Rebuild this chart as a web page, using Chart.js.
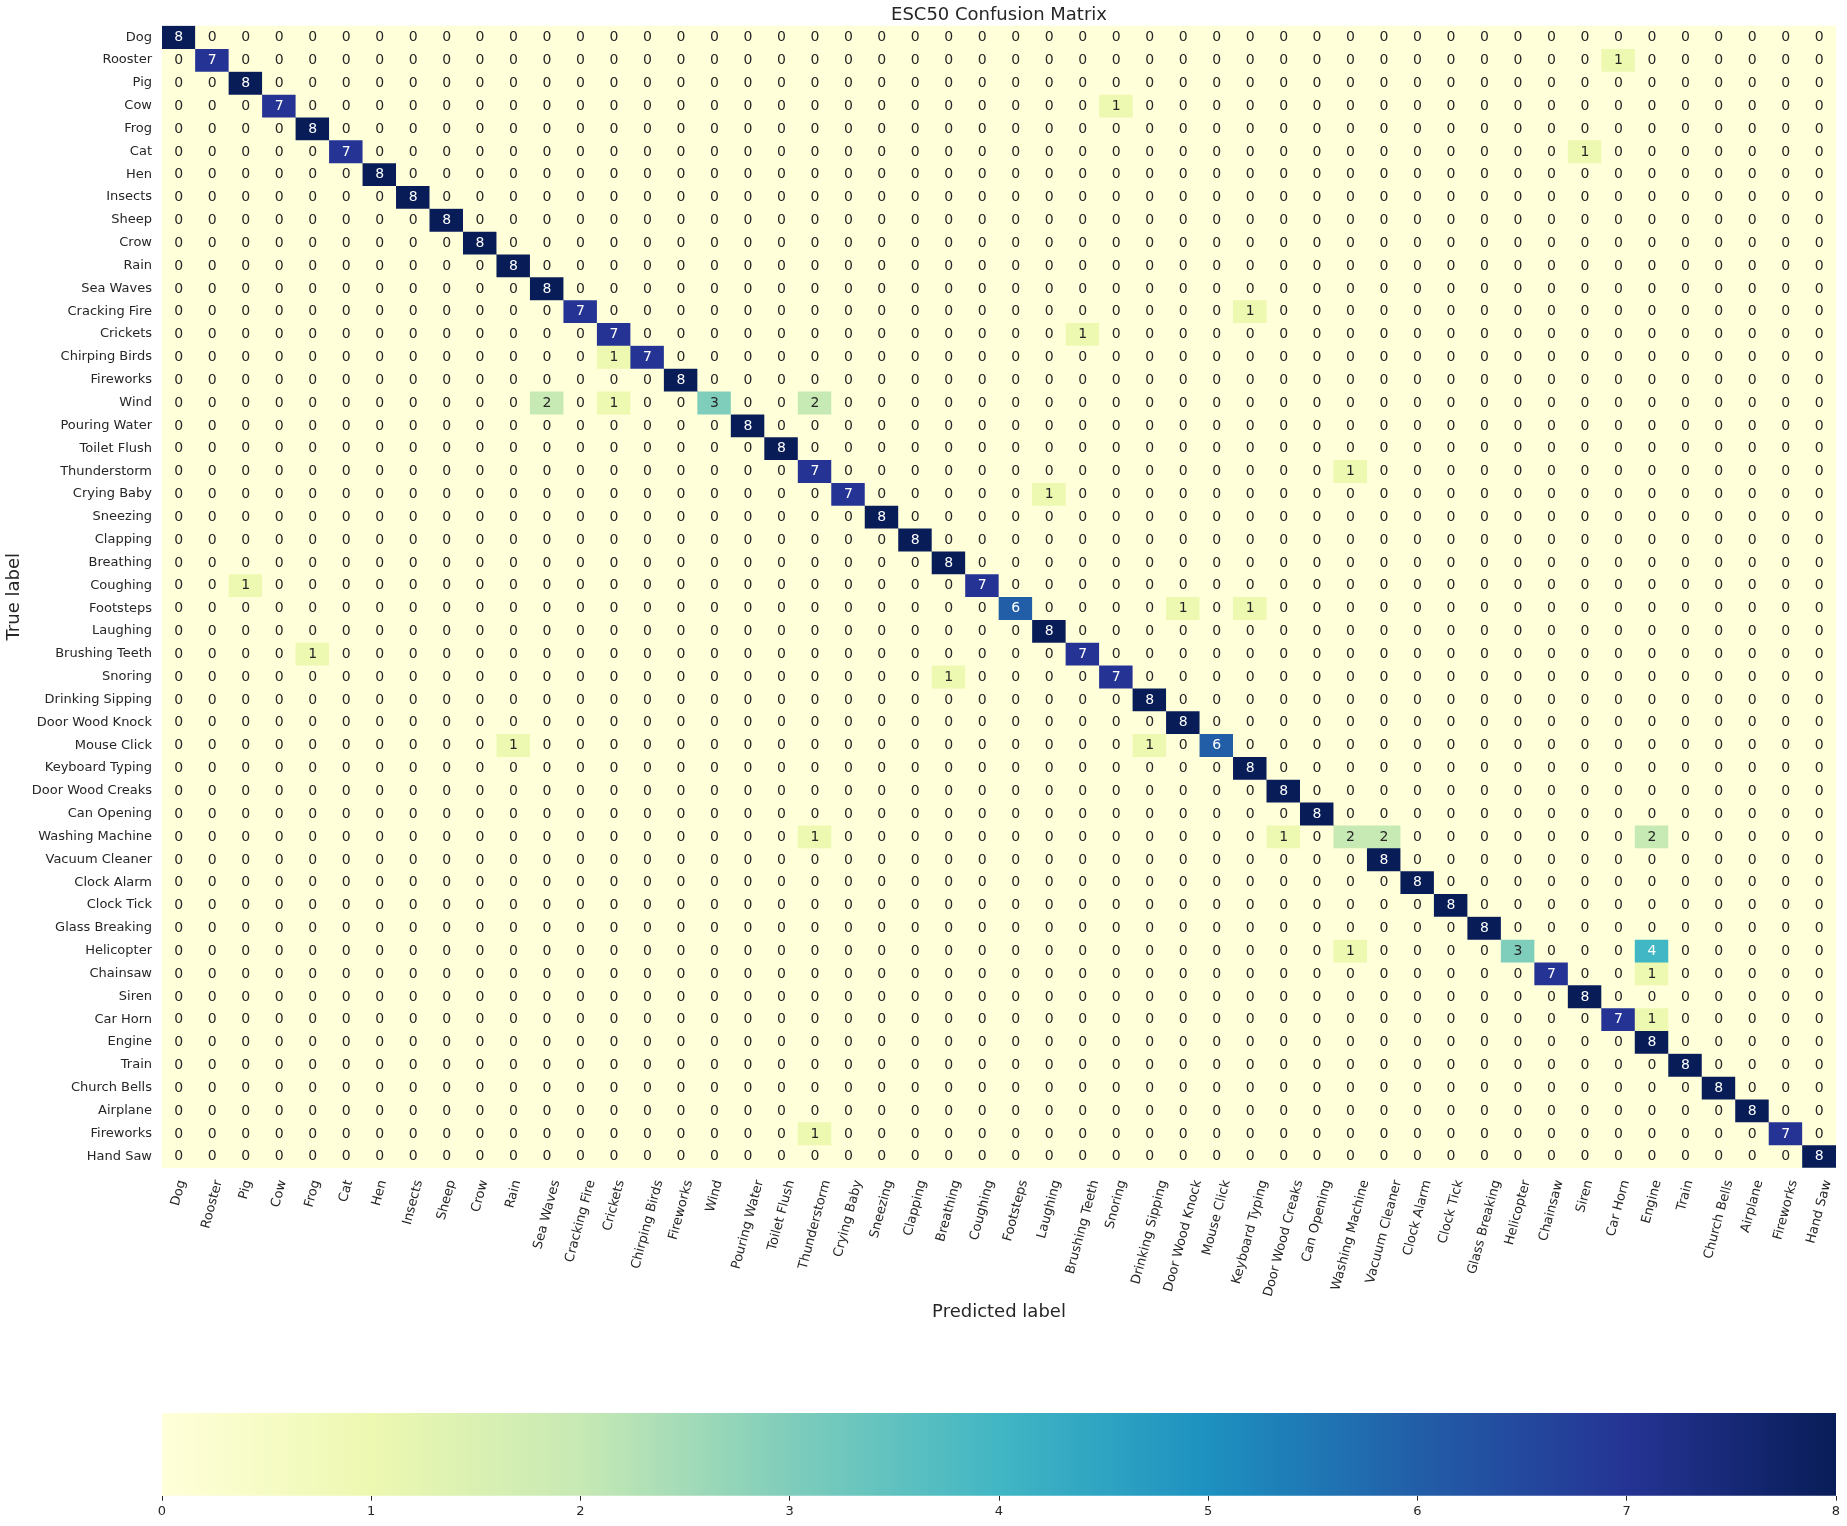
<!DOCTYPE html>
<html>
<head>
<meta charset="utf-8">
<title>ESC50 Confusion Matrix</title>
<script src="https://cdn.jsdelivr.net/npm/chart.js@4.4.1/dist/chart.umd.min.js"></script>
<style>
  html, body { margin: 0; padding: 0; background: #fff; }
  #wrap { position: relative; width: 1847px; height: 1526px; }
  .box { position: absolute; left: 0; width: 1847px; }
</style>
</head>
<body>
<div id="wrap">
  <div class="box" style="top:0;height:1340px"><canvas id="matrix"></canvas></div>
  <div class="box" style="top:1380px;height:146px"><canvas id="cbar"></canvas></div>
</div>
<script>
// class names (same order for true rows and predicted columns)
const classNames = [
  'Dog', 'Rooster', 'Pig', 'Cow', 'Frog', 'Cat', 'Hen', 'Insects', 'Sheep', 'Crow',
  'Rain', 'Sea Waves', 'Cracking Fire', 'Crickets', 'Chirping Birds', 'Fireworks', 'Wind', 'Pouring Water', 'Toilet Flush', 'Thunderstorm',
  'Crying Baby', 'Sneezing', 'Clapping', 'Breathing', 'Coughing', 'Footsteps', 'Laughing', 'Brushing Teeth', 'Snoring', 'Drinking Sipping',
  'Door Wood Knock', 'Mouse Click', 'Keyboard Typing', 'Door Wood Creaks', 'Can Opening', 'Washing Machine', 'Vacuum Cleaner', 'Clock Alarm', 'Clock Tick', 'Glass Breaking',
  'Helicopter', 'Chainsaw', 'Siren', 'Car Horn', 'Engine', 'Train', 'Church Bells', 'Airplane', 'Fireworks', 'Hand Saw'
];

// counts per true class, one digit per predicted class (groups of 10)
const matrixRows = [
  '8000000000 0000000000 0000000000 0000000000 0000000000',
  '0700000000 0000000000 0000000000 0000000000 0001000000',
  '0080000000 0000000000 0000000000 0000000000 0000000000',
  '0007000000 0000000000 0000000010 0000000000 0000000000',
  '0000800000 0000000000 0000000000 0000000000 0000000000',
  '0000070000 0000000000 0000000000 0000000000 0010000000',
  '0000008000 0000000000 0000000000 0000000000 0000000000',
  '0000000800 0000000000 0000000000 0000000000 0000000000',
  '0000000080 0000000000 0000000000 0000000000 0000000000',
  '0000000008 0000000000 0000000000 0000000000 0000000000',
  '0000000000 8000000000 0000000000 0000000000 0000000000',
  '0000000000 0800000000 0000000000 0000000000 0000000000',
  '0000000000 0070000000 0000000000 0010000000 0000000000',
  '0000000000 0007000000 0000000100 0000000000 0000000000',
  '0000000000 0001700000 0000000000 0000000000 0000000000',
  '0000000000 0000080000 0000000000 0000000000 0000000000',
  '0000000000 0201003002 0000000000 0000000000 0000000000',
  '0000000000 0000000800 0000000000 0000000000 0000000000',
  '0000000000 0000000080 0000000000 0000000000 0000000000',
  '0000000000 0000000007 0000000000 0000010000 0000000000',
  '0000000000 0000000000 7000001000 0000000000 0000000000',
  '0000000000 0000000000 0800000000 0000000000 0000000000',
  '0000000000 0000000000 0080000000 0000000000 0000000000',
  '0000000000 0000000000 0008000000 0000000000 0000000000',
  '0010000000 0000000000 0000700000 0000000000 0000000000',
  '0000000000 0000000000 0000060000 1010000000 0000000000',
  '0000000000 0000000000 0000008000 0000000000 0000000000',
  '0000100000 0000000000 0000000700 0000000000 0000000000',
  '0000000000 0000000000 0001000070 0000000000 0000000000',
  '0000000000 0000000000 0000000008 0000000000 0000000000',
  '0000000000 0000000000 0000000000 8000000000 0000000000',
  '0000000000 1000000000 0000000001 0600000000 0000000000',
  '0000000000 0000000000 0000000000 0080000000 0000000000',
  '0000000000 0000000000 0000000000 0008000000 0000000000',
  '0000000000 0000000000 0000000000 0000800000 0000000000',
  '0000000000 0000000001 0000000000 0001022000 0000200000',
  '0000000000 0000000000 0000000000 0000008000 0000000000',
  '0000000000 0000000000 0000000000 0000000800 0000000000',
  '0000000000 0000000000 0000000000 0000000080 0000000000',
  '0000000000 0000000000 0000000000 0000000008 0000000000',
  '0000000000 0000000000 0000000000 0000010000 3000400000',
  '0000000000 0000000000 0000000000 0000000000 0700100000',
  '0000000000 0000000000 0000000000 0000000000 0080000000',
  '0000000000 0000000000 0000000000 0000000000 0007100000',
  '0000000000 0000000000 0000000000 0000000000 0000800000',
  '0000000000 0000000000 0000000000 0000000000 0000080000',
  '0000000000 0000000000 0000000000 0000000000 0000008000',
  '0000000000 0000000000 0000000000 0000000000 0000000800',
  '0000000000 0000000001 0000000000 0000000000 0000000070',
  '0000000000 0000000000 0000000000 0000000000 0000000008'
];

const colorbarTicks = [0, 1, 2, 3, 4, 5, 6, 7, 8];
const vmin = 0;
const vmax = 8;
// YlGnBu control colours
const ylgnbu = ['#ffffd9', '#edf8b1', '#c7e9b4', '#7fcdbb', '#41b6c4', '#1d91c0', '#225ea8', '#253494', '#081d58'];

const confusion = matrixRows.map(s => s.replace(/ /g, '').split('').map(Number));

const hexRgb = h => [1, 3, 5].map(i => parseInt(h.slice(i, i + 2), 16));

function cellRgb(v) {
  const t = Math.min(Math.max((v - vmin) / (vmax - vmin), 0), 1) * (ylgnbu.length - 1);
  const i = Math.min(Math.floor(t), ylgnbu.length - 2);
  const f = t - i;
  const a = hexRgb(ylgnbu[i]), b = hexRgb(ylgnbu[i + 1]);
  return a.map((c, k) => Math.round(c + (b[k] - c) * f));
}
const cellColor = v => `rgb(${cellRgb(v).join(',')})`;

function textColor(v) {
  const lin = cellRgb(v).map(c => { c /= 255; return c <= 0.03928 ? c / 12.92 : Math.pow((c + 0.055) / 1.055, 2.4); });
  const lum = 0.2126 * lin[0] + 0.7152 * lin[1] + 0.0722 * lin[2];
  return lum > 0.408 ? '#262626' : '#ffffff';
}

Chart.defaults.font.family = "'DejaVu Sans', sans-serif";
Chart.defaults.color = '#262626';

const FONT = "'DejaVu Sans', sans-serif";

// background so no seams show between cells
const cellBackground = {
  id: 'cellBackground',
  beforeDatasetsDraw(chart) {
    const {ctx, chartArea: a} = chart;
    ctx.save();
    ctx.fillStyle = cellColor(vmin);
    ctx.fillRect(a.left, a.top, a.right - a.left, a.bottom - a.top);
    ctx.restore();
  }
};

// numbers written in each cell
const cellText = {
  id: 'cellText',
  afterDatasetsDraw(chart) {
    const {ctx} = chart;
    const x = chart.scales.x, y = chart.scales.y;
    ctx.save();
    ctx.font = `14px ${FONT}`;
    ctx.textAlign = 'center';
    ctx.textBaseline = 'middle';
    confusion.forEach((row, r) => {
      row.forEach((v, c) => {
        ctx.fillStyle = textColor(v);
        ctx.fillText(String(v), x.getPixelForValue(c), y.getPixelForValue(r + 0.5) + 0.5);
      });
    });
    ctx.restore();
  }
};

// rotated predicted-class labels, centred under each column
const xLabels = {
  id: 'xLabels',
  afterDraw(chart) {
    const {ctx, chartArea} = chart;
    const x = chart.scales.x;
    const ang = 75 * Math.PI / 180;
    const size = 13;
    ctx.save();
    ctx.font = `${size}px ${FONT}`;
    ctx.fillStyle = '#262626';
    ctx.textAlign = 'center';
    ctx.textBaseline = 'middle';
    classNames.forEach((name, i) => {
      const w = ctx.measureText(name).width;
      const boxH = w * Math.sin(ang) + size * Math.cos(ang);
      ctx.save();
      ctx.translate(x.getPixelForTick(i), chartArea.bottom + 11 + boxH / 2);
      ctx.rotate(-ang);
      ctx.fillText(name, 0, 0);
      ctx.restore();
    });
    ctx.restore();
  }
};

const datasets = confusion.map((row, r) => ({
  label: classNames[r],
  data: row.map(() => [r, r + 1]),
  backgroundColor: row.map(cellColor),
  borderWidth: 0,
  barPercentage: 1,
  categoryPercentage: 1,
  grouped: false
}));

new Chart(document.getElementById('matrix'), {
  type: 'bar',
  data: { labels: classNames, datasets },
  options: {
    responsive: true,
    maintainAspectRatio: false,
    animation: false,
    layout: { padding: { left: 0, right: 11, top: 0, bottom: 0 } },
    plugins: {
      legend: { display: false },
      tooltip: { enabled: false },
      title: {
        display: true,
        text: 'ESC50 Confusion Matrix',
        fullSize: false,
        color: '#262626',
        font: { size: 18, weight: 'normal' },
        padding: { top: 4.2, bottom: 0 }
      }
    },
    scales: {
      x: {
        type: 'category',
        offset: true,
        grid: { display: false, drawTicks: false },
        border: { display: false },
        ticks: { display: false },
        afterFit: s => { s.height = 172.3; },
        title: {
          display: true,
          text: 'Predicted label',
          color: '#262626',
          font: { size: 18 },
          padding: { top: 0, bottom: 17.2 }
        }
      },
      y: {
        type: 'linear',
        min: 0,
        max: classNames.length,
        reverse: true,
        grid: { display: false, drawTicks: false },
        border: { display: false },
        afterBuildTicks: s => { s.ticks = classNames.map((_, i) => ({ value: i + 0.5 })); },
        afterFit: s => { s.width = 162; },
        ticks: {
          autoSkip: false,
          padding: 10,
          color: '#262626',
          font: { size: 13 },
          callback: (v, i) => classNames[i]
        },
        title: {
          display: true,
          text: 'True label',
          color: '#262626',
          font: { size: 18 },
          padding: { top: 3.7, bottom: 0 }
        }
      }
    }
  },
  plugins: [cellBackground, cellText, xLabels]
});

// horizontal colour bar
new Chart(document.getElementById('cbar'), {
  type: 'bar',
  data: {
    labels: [''],
    datasets: [{
      data: [[vmin, vmax]],
      backgroundColor: c => {
        const {chartArea, ctx} = c.chart;
        if (!chartArea) return ylgnbu[0];
        const g = ctx.createLinearGradient(chartArea.left, 0, chartArea.right, 0);
        ylgnbu.forEach((col, i) => g.addColorStop(i / (ylgnbu.length - 1), col));
        return g;
      },
      borderWidth: 0,
      barPercentage: 1,
      categoryPercentage: 1
    }]
  },
  options: {
    indexAxis: 'y',
    responsive: true,
    maintainAspectRatio: false,
    animation: false,
    layout: { padding: { left: 162, right: 11, top: 33, bottom: 0 } },
    plugins: { legend: { display: false }, tooltip: { enabled: false } },
    scales: {
      x: {
        type: 'linear',
        min: vmin,
        max: vmax,
        afterBuildTicks: s => { s.ticks = colorbarTicks.map(v => ({ value: v })); },
        afterFit: s => { s.height = 30.3; },
        grid: { display: true, drawOnChartArea: false, drawTicks: true, tickLength: 5, color: '#262626', lineWidth: 1 },
        border: { display: false },
        ticks: { padding: 3, color: '#262626', font: { size: 13 } }
      },
      y: { display: false }
    }
  }
});
</script>
</body>
</html>
